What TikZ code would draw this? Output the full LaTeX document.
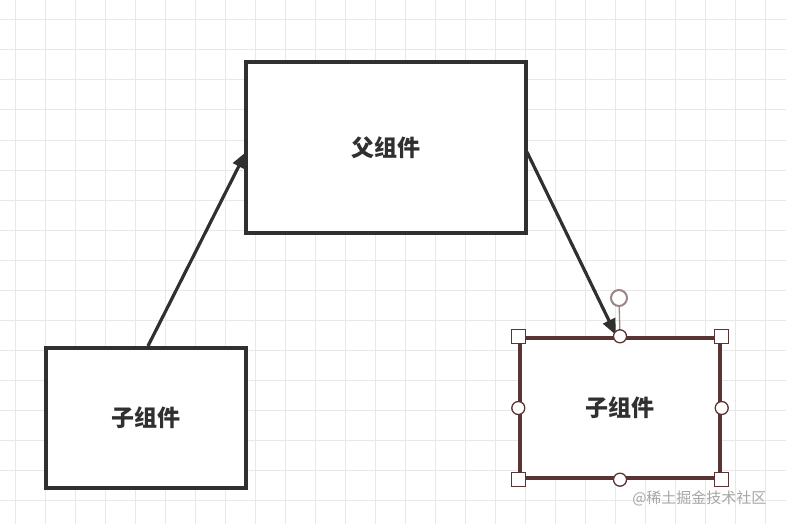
\documentclass[tikz,border=0pt]{standalone}
\usepackage{fontspec}
\newfontfamily\cjk{Noto Sans CJK SC}
\usetikzlibrary{arrows.meta}
\definecolor{gridc}{HTML}{E8E8E8}
\definecolor{selc}{HTML}{5A3434}
\definecolor{ink}{HTML}{303030}
\begin{document}
\begin{tikzpicture}[x=1pt,y=-1pt,
  box/.style={draw=ink,line width=3.2pt,fill=white,font=\cjk\fontsize{23}{26}\selectfont\bfseries,text=ink},
  arr/.style={draw=ink,line width=3.2pt,-{Triangle[length=16pt,width=13pt]}},
  hc/.style={circle,draw=selc,fill=white,line width=1.3pt,minimum size=13pt,inner sep=0pt},
  hs/.style={rectangle,draw=selc,fill=white,line width=1.3pt,minimum size=14pt,inner sep=0pt}]
\fill[white] (0,0) rectangle (786,524);
\useasboundingbox (0,0) rectangle (786,524);
\foreach \x in {15,45,...,786} \draw[gridc,line width=1pt] (\x,0) -- (\x,524);
\foreach \y in {20,50,...,524} \draw[gridc,line width=1pt] (0,\y) -- (786,\y);
\node[box,minimum width=280pt,minimum height=171pt] (p) at (386,147.5) {父组件};
\node[box,minimum width=200pt,minimum height=140pt] (c1) at (146,418) {子组件};
\node[box,draw=selc,line width=3.4pt,minimum width=200pt,minimum height=140pt] (c2) at (620,408) {子组件};
\coordinate (s1) at (148,346);
\coordinate (e1) at (246,152);
\coordinate (s2) at (527,152);
\coordinate (e2) at (616,335);
\draw[arr] (s1) -- (e1);
\draw[arr] (s2) -- (e2);
\node[circle,draw=selc!60,line width=2pt,fill=white,minimum size=16pt,inner sep=0pt] (rot) at (619,298) {};
\draw[selc!60,line width=1.3pt] (rot) -- (c2.north);
\foreach \a in {north,south,east,west} \node[hc] at (c2.\a) {};
\foreach \a in {north west,north east,south west,south east} \node[hs] at (c2.\a) {};
\node[font=\cjk\fontsize{15}{18}\selectfont,text=black!35,anchor=east] (wm) at (770,498) {@稀土掘金技术社区};
\end{tikzpicture}
\end{document}
